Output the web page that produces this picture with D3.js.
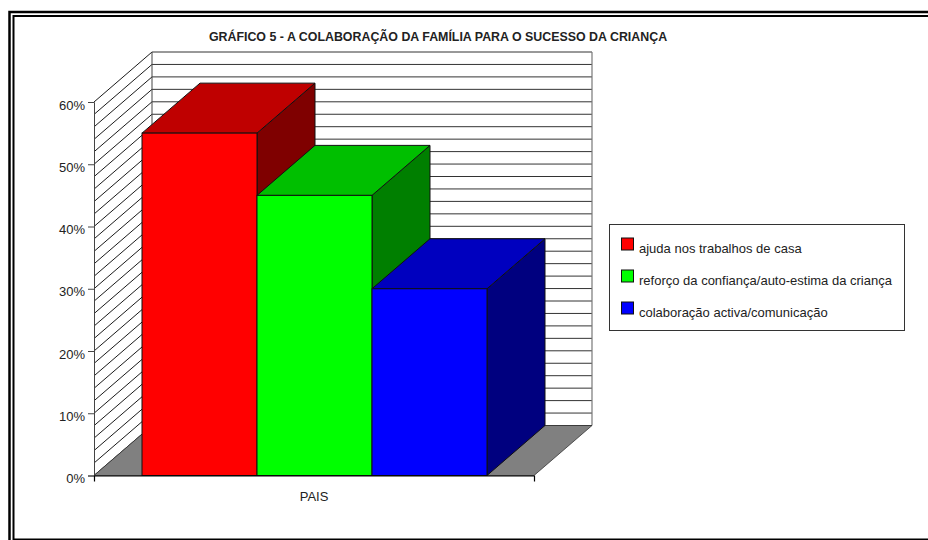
<!DOCTYPE html>
<html>
<head>
<meta charset="utf-8">
<script src="https://d3js.org/d3.v7.min.js"></script>
<style>
html, body { margin: 0; padding: 0; background: #fff; }
svg { display: block; }
text { font-family: "Liberation Sans", Arial, sans-serif; fill: #222; }
</style>
</head>
<body>
<div id="chart"></div>
<script>
var title = "GRÁFICO 5 - A COLABORAÇÃO DA FAMÍLIA PARA O SUCESSO DA CRIANÇA";
var categories = ["PAIS"];
var series = ["ajuda nos trabalhos de casa", "reforço da confiança/auto-estima da criança", "colaboração activa/comunicação"];
var values = [55, 45, 30];
var frontColors = ["#ff0000", "#00ff00", "#0000ff"];
var topColors = ["#bf0000", "#00bf00", "#0000bf"];
var sideColors = ["#7f0000", "#007f00", "#00007f"];
var yTicks = [0, 10, 20, 30, 40, 50, 60];
var gridValues = d3.range(0, 61, 2);

var width = 928, height = 540;
var depthX = 58, depthY = 50; // offset of the back wall

var svg = d3.select("#chart").append("svg")
    .attr("width", width)
    .attr("height", height);

// double frame, cut off by the page on the right and at the bottom
svg.append("path")
    .attr("d", "M9.5,541V12H930")
    .attr("fill", "none").attr("stroke", "#000").attr("stroke-width", 2.5);
svg.append("path")
    .attr("d", "M13.5,539.5H930M13.5,541V16H930")
    .attr("fill", "none").attr("stroke", "#000").attr("stroke-width", 2);

var y = d3.scaleLinear().domain([0, 60]).range([475.5, 102]);
var x0 = d3.scaleBand().domain(categories).range([94, 534]);
var x1 = d3.scaleBand().domain(series).range([142, 487]);

function pts(a) {
    return a.map(function(p) { return p.join(","); }).join(" ");
}

// walls
svg.append("polygon")
    .attr("points", pts([[x0.range()[0], y(60)], [x0.range()[0] + depthX, y(60) - depthY],
                         [x0.range()[0] + depthX, y(0) - depthY], [x0.range()[0], y(0)]]))
    .attr("fill", "#fff");

svg.selectAll(".hatch").data(gridValues).enter().append("line")
    .attr("class", "hatch")
    .attr("x1", x0.range()[0])
    .attr("y1", function(d) { return y(d); })
    .attr("x2", x0.range()[0] + depthX)
    .attr("y2", function(d) { return y(d) - depthY; })
    .attr("stroke", "#000").attr("stroke-width", 0.9);

svg.selectAll(".grid").data(gridValues).enter().append("line")
    .attr("class", "grid")
    .attr("x1", x0.range()[0] + depthX)
    .attr("x2", x0.range()[1] + depthX)
    .attr("y1", function(d) { return y(d) - depthY; })
    .attr("y2", function(d) { return y(d) - depthY; })
    .attr("stroke", "#333").attr("stroke-width", 1);

// back wall edges
svg.append("line")
    .attr("x1", x0.range()[0] + depthX).attr("x2", x0.range()[0] + depthX)
    .attr("y1", y(60) - depthY).attr("y2", y(0) - depthY)
    .attr("stroke", "#444").attr("stroke-width", 1);
svg.append("line")
    .attr("x1", x0.range()[1] + depthX).attr("x2", x0.range()[1] + depthX)
    .attr("y1", y(60) - depthY).attr("y2", y(0) - depthY)
    .attr("stroke", "#777").attr("stroke-width", 1.2);

// floor
svg.append("polygon")
    .attr("points", pts([[x0.range()[0], y(0)], [x0.range()[1], y(0)],
                         [x0.range()[1] + depthX, y(0) - depthY], [x0.range()[0] + depthX, y(0) - depthY]]))
    .attr("fill", "#808080")
    .attr("stroke", "#333").attr("stroke-width", 0.8);

// bars
var bars = svg.selectAll(".bar").data(values).enter().append("g").attr("class", "bar");

bars.append("polygon")
    .attr("points", function(d, i) {
        var xr = x1(series[i]) + x1.bandwidth();
        return pts([[xr, y(d)], [xr + depthX, y(d) - depthY], [xr + depthX, y(0) - depthY], [xr, y(0)]]);
    })
    .attr("fill", function(d, i) { return sideColors[i]; })
    .attr("stroke", "#111").attr("stroke-width", 1);

bars.append("polygon")
    .attr("points", function(d, i) {
        var xl = x1(series[i]), xr = xl + x1.bandwidth();
        return pts([[xl, y(d)], [xl + depthX, y(d) - depthY], [xr + depthX, y(d) - depthY], [xr, y(d)]]);
    })
    .attr("fill", function(d, i) { return topColors[i]; })
    .attr("stroke", "#111").attr("stroke-width", 1);

bars.append("rect")
    .attr("x", function(d, i) { return x1(series[i]); })
    .attr("y", function(d) { return y(d); })
    .attr("width", x1.bandwidth())
    .attr("height", function(d) { return y(0) - y(d); })
    .attr("fill", function(d, i) { return frontColors[i]; })
    .attr("stroke", "#111").attr("stroke-width", 1);

// axes
var yAxis = d3.axisLeft(y)
    .tickValues(yTicks)
    .tickFormat(function(d) { return d + "%"; })
    .tickSize(6).tickPadding(3);
var gy = svg.append("g").attr("transform", "translate(94,0)").call(yAxis);
gy.selectAll("text").attr("font-size", 13).attr("dy", "0.55em")
    .style("font-family", '"Liberation Sans", Arial, sans-serif').attr("fill", "#222");
gy.selectAll("line, path").attr("stroke", "#444");

var xAxis = d3.axisBottom(x0).tickSize(0).tickSizeOuter(6).tickPadding(16);
var gx = svg.append("g").attr("transform", "translate(0," + y(0) + ")").call(xAxis);
gx.selectAll("text").attr("font-size", 13)
    .style("font-family", '"Liberation Sans", Arial, sans-serif').attr("fill", "#222");
gx.selectAll("path").attr("stroke", "#000").attr("stroke-width", 1.2);

// title
svg.append("text")
    .attr("x", 438).attr("y", 41)
    .attr("text-anchor", "middle")
    .attr("font-size", 12.4).attr("font-weight", "bold")
    .attr("fill", "#111")
    .text(title);

// legend
var legend = svg.append("g");
legend.append("rect")
    .attr("x", 609.5).attr("y", 224.5)
    .attr("width", 295).attr("height", 106)
    .attr("fill", "#fff").attr("stroke", "#333").attr("stroke-width", 1);

var legendY = d3.scalePoint().domain(series).range([244, 308]);
var items = legend.selectAll(".item").data(series).enter().append("g").attr("class", "item");
items.append("rect")
    .attr("x", 621.5)
    .attr("y", function(d) { return legendY(d) - 6; })
    .attr("width", 12).attr("height", 12)
    .attr("fill", function(d, i) { return frontColors[i]; })
    .attr("stroke", "#111").attr("stroke-width", 1);
items.append("text")
    .attr("x", 639)
    .attr("y", function(d) { return legendY(d) + 8.5; })
    .attr("font-size", 13)
    .text(function(d) { return d; });
</script>
</body>
</html>
